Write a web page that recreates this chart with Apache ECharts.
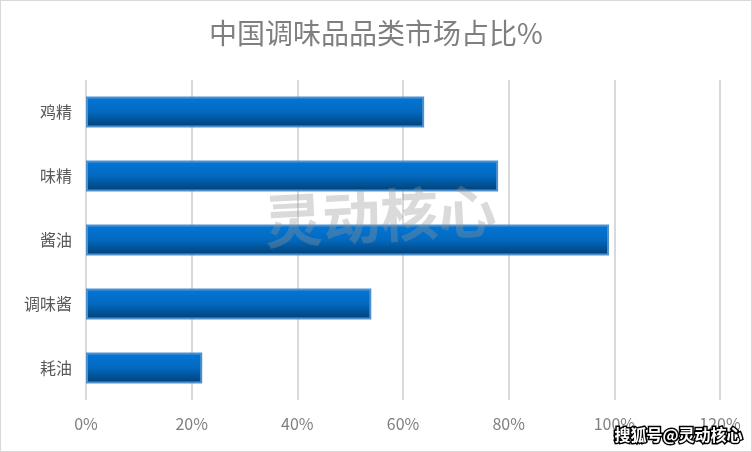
<!DOCTYPE html>
<html>
<head>
<meta charset="utf-8">
<script src="https://cdn.jsdelivr.net/npm/echarts@6/dist/echarts.min.js"></script>
<style>
  html, body { margin: 0; padding: 0; background: #fff; }
  #chart { width: 750px; height: 450px; border: 1px solid #d9d9d9; }
</style>
</head>
<body>
<div id="chart"></div>
<script>
// categories top -> bottom as drawn
const categories = ["鸡精", "味精", "酱油", "调味酱", "耗油"];
const shares = [0.64, 0.78, 0.99, 0.54, 0.22];
const xTicks = [0, 0.2, 0.4, 0.6, 0.8, 1.0, 1.2];

const chart = echarts.init(document.getElementById("chart"));

chart.setOption({
  backgroundColor: "#fff",
  animation: false,
  title: {
    text: "中国调味品品类市场占比%",
    left: "center",
    top: 13,
    textStyle: {
      fontFamily: "Noto Sans CJK SC",
      fontWeight: "normal",
      fontSize: 28,
      color: "#7f7f7f"
    }
  },
  grid: {
    left: 85,
    right: 31,
    top: 79,
    bottom: 51
  },
  xAxis: {
    type: "value",
    min: xTicks[0],
    max: xTicks[xTicks.length - 1],
    interval: 0.2,
    axisLine: { show: false },
    axisTick: { show: false },
    splitLine: { lineStyle: { color: "#d9d9d9", width: 2 } },
    axisLabel: {
      margin: 16,
      fontSize: 16,
      color: "#7f7f7f",
      fontFamily: "Noto Sans CJK SC",
      formatter: v => Math.round(v * 100) + "%"
    }
  },
  yAxis: {
    type: "category",
    inverse: true,
    data: categories,
    axisLine: { show: false },
    axisTick: { show: false },
    axisLabel: {
      margin: 14,
      fontSize: 16,
      color: "#595959",
      fontFamily: "Noto Sans CJK SC"
    }
  },
  series: [{
    type: "bar",
    data: shares,
    barWidth: 31,
    itemStyle: {
      borderColor: "#4f91cd",
      borderWidth: 2,
      color: new echarts.graphic.LinearGradient(0, 0, 0, 1, [
        { offset: 0, color: "#0277d6" },
        { offset: 0.5, color: "#0369bf" },
        { offset: 1, color: "#013f72" }
      ])
    }
  }],
  graphic: [
    {
      type: "text",
      left: 262,
      top: 180,
      z: 100,
      rotation: 0.05,
      style: {
        text: "灵动核心",
        font: "bold 58px 'Noto Sans CJK SC'",
        fill: "rgba(150,150,150,0.35)"
      }
    },
    {
      type: "text",
      left: 612,
      top: 424,
      z: 100,
      style: {
        text: "搜狐号@灵动核心",
        font: "bold 16px 'Noto Sans CJK SC'",
        fill: "#fff",
        stroke: "#000",
        lineWidth: 3
      }
    }
  ]
});
</script>
</body>
</html>
